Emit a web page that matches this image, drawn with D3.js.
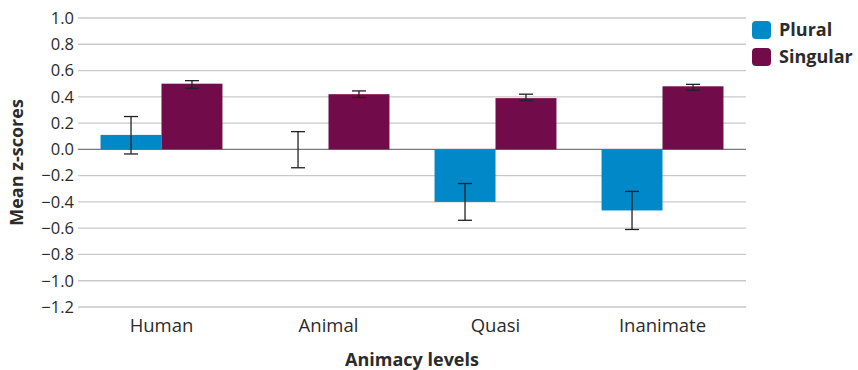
<!DOCTYPE html>
<html>
<head>
<meta charset="utf-8">
<script src="https://cdn.jsdelivr.net/npm/d3@7"></script>
<style>
  body { margin: 0; background: #fff; }
  svg { display: block; font-family: "Open Sans", sans-serif; }
</style>
</head>
<body>
<div id="chart"></div>
<script>
const categories = ['Human', 'Animal', 'Quasi', 'Inanimate'];
const seriesNames = ['Plural', 'Singular'];
const pluralMeans = [0.11, 0.0, -0.40, -0.465];
const pluralLow = [-0.035, -0.14, -0.54, -0.61];
const pluralHigh = [0.25, 0.135, -0.26, -0.32];
const singularMeans = [0.50, 0.42, 0.39, 0.48];
const singularLow = [0.465, 0.395, 0.372, 0.45];
const singularHigh = [0.523, 0.445, 0.42, 0.495];
const yTicks = [1.0, 0.8, 0.6, 0.4, 0.2, 0.0, -0.2, -0.4, -0.6, -0.8, -1.0, -1.2];

const colors = { Plural: '#0088c8', Singular: '#720b49' };

const width = 858, height = 370;
const margin = { top: 18, right: 112, bottom: 63, left: 78 };

const svg = d3.select('#chart').append('svg')
    .attr('width', width)
    .attr('height', height);

const x = d3.scaleBand()
    .domain(categories)
    .range([margin.left, width - margin.right])
    .paddingInner(0.27)
    .paddingOuter(0.135);

const xSub = d3.scaleBand()
    .domain(seriesNames)
    .range([0, x.bandwidth()]);

const y = d3.scaleLinear()
    .domain([-1.2, 1.0])
    .range([height - margin.bottom, margin.top]);

// grid
svg.append('g')
    .selectAll('line')
    .data(yTicks)
    .join('line')
    .attr('x1', margin.left)
    .attr('x2', width - margin.right)
    .attr('y1', d => y(d))
    .attr('y2', d => y(d))
    .attr('stroke', d => d === 0 ? '#7a7a7a' : '#c9c9c9')
    .attr('stroke-width', 1.3);

// y tick labels
const fmt = d => (d < 0 ? '\u2212' : '') + Math.abs(d).toFixed(1);
svg.append('g')
    .selectAll('text')
    .data(yTicks)
    .join('text')
    .attr('x', margin.left - 4)
    .attr('y', d => y(d))
    .attr('dy', '0.35em')
    .attr('text-anchor', 'end')
    .attr('font-size', 16.5)
    .attr('fill', '#2b2b2b')
    .text(fmt);

const rows = categories.map((c, i) => [
    { cat: c, s: 'Plural', v: pluralMeans[i], lo: pluralLow[i], hi: pluralHigh[i] },
    { cat: c, s: 'Singular', v: singularMeans[i], lo: singularLow[i], hi: singularHigh[i] }
]).flat();

svg.append('g')
    .selectAll('rect')
    .data(rows)
    .join('rect')
    .attr('x', d => x(d.cat) + xSub(d.s))
    .attr('width', xSub.bandwidth())
    .attr('y', d => y(Math.max(0, d.v)))
    .attr('height', d => Math.abs(y(d.v) - y(0)))
    .attr('fill', d => colors[d.s]);

// error bars
const err = svg.append('g')
    .attr('stroke', '#222')
    .attr('stroke-width', 1.3)
    .selectAll('g')
    .data(rows)
    .join('g')
    .attr('transform', d => `translate(${x(d.cat) + xSub(d.s) + xSub.bandwidth() / 2},0)`);

err.append('line')
    .attr('y1', d => y(d.lo))
    .attr('y2', d => y(d.hi));
err.append('line')
    .attr('x1', -7).attr('x2', 7)
    .attr('y1', d => y(d.lo)).attr('y2', d => y(d.lo));
err.append('line')
    .attr('x1', -7).attr('x2', 7)
    .attr('y1', d => y(d.hi)).attr('y2', d => y(d.hi));

// category labels
svg.append('g')
    .selectAll('text')
    .data(categories)
    .join('text')
    .attr('x', d => x(d) + x.bandwidth() / 2)
    .attr('y', 332)
    .attr('text-anchor', 'middle')
    .attr('font-size', 18.5)
    .attr('fill', '#2b2b2b')
    .text(d => d);

// axis titles
svg.append('text')
    .attr('x', (margin.left + width - margin.right) / 2)
    .attr('y', 366)
    .attr('text-anchor', 'middle')
    .attr('font-size', 18)
    .attr('font-weight', 'bold')
    .attr('fill', '#2b2b2b')
    .text('Animacy levels');

svg.append('text')
    .attr('transform', `translate(23,${(y(1.0) + y(-1.2)) / 2}) rotate(-90)`)
    .attr('text-anchor', 'middle')
    .attr('font-size', 18)
    .attr('font-weight', 'bold')
    .attr('fill', '#2b2b2b')
    .text('Mean z-scores');

// legend
const legend = svg.append('g')
    .selectAll('g')
    .data(seriesNames)
    .join('g')
    .attr('transform', (d, i) => `translate(752,${21 + i * 27})`);

legend.append('rect')
    .attr('width', 19)
    .attr('height', 18)
    .attr('rx', 4)
    .attr('fill', d => colors[d]);

legend.append('text')
    .attr('x', 27)
    .attr('y', 15)
    .attr('font-size', 18)
    .attr('font-weight', 'bold')
    .attr('fill', '#2b2b2b')
    .text(d => d);
</script>
</body>
</html>
